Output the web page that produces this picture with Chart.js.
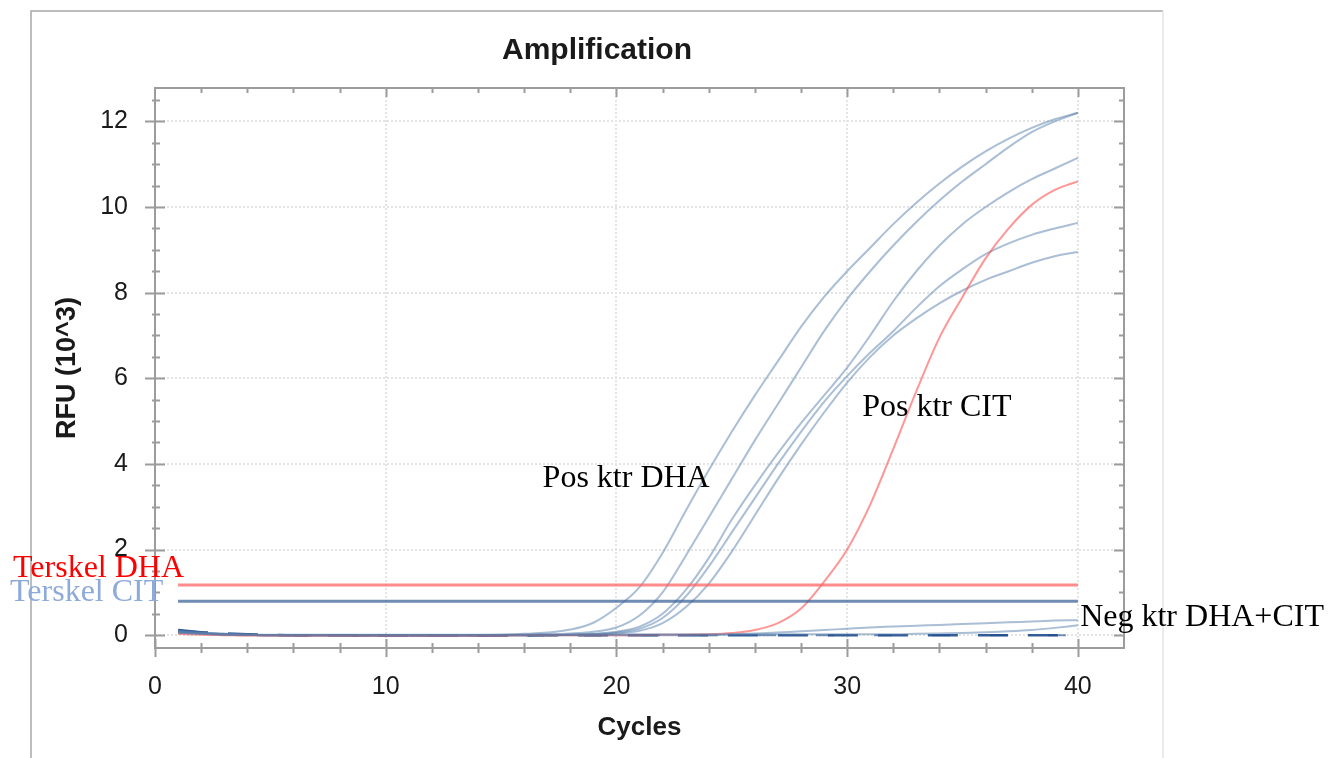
<!DOCTYPE html>
<html><head><meta charset="utf-8">
<script src="https://cdn.jsdelivr.net/npm/chart.js@4.4.1/dist/chart.umd.min.js"></script>
<style>html,body{margin:0;padding:0;background:#fff;overflow:hidden}</style>
</head><body>
<canvas id="c" width="1343" height="758"></canvas>
<script>
// ---- data (RFU x 10^3 per cycle) ----
const cycles = [1,2,3,4,5,6,7,8,9,10,11,12,13,14,15,16,17,18,19,20,21,22,23,24,25,26,27,28,29,30,31,32,33,34,35,36,37,38,39,40];
const posDHA1 = [0.09,0.05,0.03,0.01,0,0,-0.01,-0.01,-0.01,-0.01,-0.01,-0.01,-0.01,0,0.01,0.03,0.06,0.13,0.29,0.64,1.12,1.92,2.9,3.85,4.75,5.6,6.4,7.2,7.9,8.5,9.05,9.6,10.1,10.55,10.95,11.3,11.6,11.85,12.05,12.2];
const posDHA2 = [0.07,0.04,0.02,0.01,0,0,0,-0.01,-0.01,-0.01,-0.01,-0.01,-0.01,-0.01,0,0.01,0.02,0.04,0.08,0.18,0.46,1.0,1.85,2.75,3.65,4.55,5.4,6.25,7.1,7.85,8.5,9.1,9.65,10.15,10.6,11.0,11.4,11.75,12.0,12.2];
const posDHA3 = [0.08,0.05,0.02,0.01,0,0,0,0,-0.01,-0.01,-0.01,-0.01,-0.01,-0.01,0,0,0.01,0.01,0.03,0.08,0.2,0.5,1.05,1.8,2.7,3.5,4.25,4.95,5.6,6.25,7.0,7.8,8.5,9.1,9.6,10.0,10.35,10.65,10.9,11.15];
const posDHA4 = [0.1,0.06,0.03,0.01,0,0,0,0,-0.01,-0.01,-0.01,-0.01,-0.01,-0.01,0,0,0,0.01,0.02,0.06,0.15,0.4,0.9,1.6,2.4,3.2,4.0,4.75,5.45,6.05,6.6,7.1,7.65,8.15,8.55,8.9,9.15,9.35,9.5,9.63];
const posDHA5 = [0.09,0.05,0.02,0.01,0,0,0,0,-0.01,-0.01,-0.01,-0.01,-0.01,-0.01,0,0,0,0.01,0.02,0.04,0.1,0.28,0.65,1.2,1.95,2.8,3.65,4.45,5.2,5.9,6.5,7.0,7.4,7.75,8.05,8.3,8.5,8.7,8.85,8.95];
const posCIT = [0.03,0.01,0,-0.01,-0.01,-0.01,-0.01,-0.01,-0.01,-0.01,-0.01,-0.01,-0.01,-0.01,-0.01,0,0,0,0,0,0,0.01,0.01,0.02,0.05,0.12,0.28,0.62,1.25,2.0,3.05,4.35,5.7,6.95,7.9,8.8,9.5,10.05,10.4,10.6];
const negA = [0.06,0.03,0.01,0,0,0,0,0,0,0,0,0,0,0,0,0,0,0,0,0,0,0,0,0,0.02,0.04,0.06,0.09,0.12,0.15,0.18,0.2,0.22,0.24,0.26,0.28,0.3,0.32,0.34,0.35];
const negB = [0.05,0.03,0.01,0.01,0.01,0.01,0.01,0.01,0.01,0.01,0.01,0.01,0.01,0.01,0.01,0.01,0.01,0.01,0.01,0.02,0.02,0.02,0.02,0.02,0.02,0.02,0.02,0.02,0.02,0.02,0.02,0.02,0.03,0.04,0.05,0.07,0.09,0.12,0.17,0.23];
const negC = [0.12,0.07,0.04,0.02,0.01,0,0,0,-0.01,-0.01,-0.01,-0.01,-0.01,-0.01,-0.01,-0.01,0,0,0,0,0,0,0,0,0,0,0,0,0,0,0,0,0,0,0,0,0,0,0,0];
const negD = [0.1,0.06,0.03,0.01,0,-0.01,-0.01,-0.01,-0.01,-0.01,-0.01,-0.01,-0.01,-0.01,-0.01,-0.01,-0.01,-0.01,-0.01,-0.01,0,0,0,0,0,0,0,0,0,0,0,0,0,0,0,0,0,0,0,0];
const thresholdDHA = 1.17;
const thresholdCIT = 0.79;
const xTickValues = [0,10,20,30,40];
const yTickValues = [0,2,4,6,8,10,12];

const pts = arr => cycles.map((c, i) => ({x: c, y: arr[i]}));
const flat = v => cycles.map(c => ({x: c, y: v}));

const BLUE = 'rgba(85,125,172,0.5)';
const RED = 'rgba(255,80,80,0.6)';
function line(data, color, width, extra) {
  return Object.assign({data: data, borderColor: color, borderWidth: width, pointRadius: 0,
    fill: false, cubicInterpolationMode: 'monotone', tension: 0.4}, extra || {});
}

const datasets = [
  line(flat(thresholdDHA), 'rgba(255,95,95,0.72)', 3, {tension: 0}),
  line(flat(thresholdCIT), 'rgba(55,95,150,0.72)', 3, {tension: 0}),
  line(pts(negA), BLUE, 2),
  line(pts(negB), BLUE, 2),
  line(pts(posCIT), RED, 2),
  line(pts(posDHA1), BLUE, 2),
  line(pts(posDHA2), BLUE, 2),
  line(pts(posDHA3), BLUE, 2),
  line(pts(posDHA4), BLUE, 2),
  line(pts(posDHA5), BLUE, 2),
  line(pts(negC), 'rgba(30,75,140,0.9)', 2.5, {borderDash: [30, 20]}),
  line(pts(negD), 'rgba(30,75,140,0.6)', 2, {borderDash: [18, 40]})
];

const deco = {
  id: 'deco',
  beforeDraw(chart) {
    const ctx = chart.ctx;
    ctx.save();
    ctx.fillStyle = '#fff';
    ctx.fillRect(0, 0, chart.width, chart.height);
    ctx.lineWidth = 1.5;
    ctx.strokeStyle = '#a8a8a8';
    ctx.beginPath(); ctx.moveTo(31, 758); ctx.lineTo(31, 11); ctx.lineTo(1163, 11); ctx.stroke();
    ctx.strokeStyle = '#e4e4e4';
    ctx.beginPath(); ctx.moveTo(1163, 11); ctx.lineTo(1163, 758); ctx.stroke();
    ctx.restore();
  },
  afterDraw(chart) {
    const {ctx, chartArea: a, scales: {x, y}} = chart;
    ctx.save();
    ctx.strokeStyle = '#9c9c9c';
    ctx.lineWidth = 2;
    ctx.strokeRect(a.left, a.top, a.right - a.left, a.bottom - a.top);
    // x ticks (every 2 cycles)
    for (let v = 2; v < 42; v += 2) {
      const px = Math.round(x.getPixelForValue(v)) + 0.5;
      const major = v % 10 === 0;
      const L = major ? 9 : 5;
      ctx.beginPath();
      ctx.moveTo(px, a.bottom + (major ? 9 : 5)); ctx.lineTo(px, a.bottom - L);
      ctx.moveTo(px, a.top); ctx.lineTo(px, a.top + L);
      ctx.stroke();
    }
    // y ticks (every 0.5)
    for (let v = 0.5; v <= 12.5; v += 0.5) {
      const py = Math.round(y.getPixelForValue(v)) + 0.5;
      const major = Math.abs(v % 2) < 1e-9;
      const L = major ? 10 : 5;
      ctx.beginPath();
      ctx.moveTo(a.left - (major ? 10 : 3), py); ctx.lineTo(a.left + L, py);
      ctx.moveTo(a.right - L, py); ctx.lineTo(a.right, py);
      ctx.stroke();
    }
    {
      const py = Math.round(y.getPixelForValue(0)) + 0.5;
      ctx.beginPath(); ctx.moveTo(a.left - 10, py); ctx.lineTo(a.left + 10, py);
      ctx.moveTo(a.right - 10, py); ctx.lineTo(a.right, py); ctx.stroke();
      const px = Math.round(x.getPixelForValue(0)) + 0.5;
      ctx.beginPath(); ctx.moveTo(px, a.bottom + 9); ctx.lineTo(px, a.bottom - 9); ctx.stroke();
    }
    // titles
    ctx.fillStyle = '#1a1a1a';
    ctx.textAlign = 'center';
    ctx.textBaseline = 'alphabetic';
    ctx.font = 'bold 30px "Liberation Sans", Arial, sans-serif';
    ctx.fillText('Amplification', 597, 59);
    ctx.font = 'bold 26px "Liberation Sans", Arial, sans-serif';
    ctx.fillText('Cycles', (a.left + a.right) / 2, 735);
    ctx.save();
    ctx.translate(75, (a.top + a.bottom) / 2);
    ctx.rotate(-Math.PI / 2);
    ctx.font = 'bold 27px "Liberation Sans", Arial, sans-serif';
    ctx.fillText('RFU (10^3)', 0, 0);
    ctx.restore();
    // annotations
    ctx.textAlign = 'left';
    ctx.font = '32px "Liberation Serif", "Times New Roman", serif';
    ctx.fillStyle = '#ff0000';
    ctx.fillText('Terskel DHA', 13, 577);
    ctx.fillStyle = '#8eaadb';
    ctx.fillText('Terskel CIT', 10, 601);
    ctx.fillStyle = '#000';
    ctx.fillText('Pos ktr DHA', x.getPixelForValue(16.8), y.getPixelForValue(3.47));
    ctx.fillText('Pos ktr CIT', x.getPixelForValue(30.65), y.getPixelForValue(5.13));
    ctx.fillText('Neg ktr DHA+CIT', x.getPixelForValue(40.1), y.getPixelForValue(0.22));
    ctx.restore();
  }
};

const tickFont = {family: '"Liberation Sans", Arial, sans-serif', size: 25};
new Chart(document.getElementById('c'), {
  type: 'line',
  data: {datasets: datasets},
  options: {
    responsive: false,
    animation: false,
    devicePixelRatio: 1,
    events: [],
    layout: {padding: {top: 88, right: 219, left: 0, bottom: 0}},
    plugins: {legend: {display: false}, title: {display: false}, tooltip: {enabled: false}},
    scales: {
      x: {
        type: 'linear', min: 0, max: 42,
        afterFit: s => { s.height = 110; },
        afterBuildTicks: s => { s.ticks = xTickValues.map(v => ({value: v})); },
        ticks: {font: tickFont, color: '#1a1a1a', padding: 24, maxRotation: 0, autoSkip: false},
        grid: {drawTicks: false, color: '#e4e4e4', lineWidth: 2},
        border: {display: false, dash: [2, 2]}
      },
      y: {
        type: 'linear', min: -0.3, max: 12.78,
        afterFit: s => { s.width = 155; },
        afterBuildTicks: s => { s.ticks = yTickValues.map(v => ({value: v})); },
        ticks: {font: tickFont, color: '#1a1a1a', padding: 27, autoSkip: false},
        grid: {drawTicks: false, color: '#e4e4e4', lineWidth: 2},
        border: {display: false, dash: [2, 2]}
      }
    }
  },
  plugins: [deco]
});
</script>
</body></html>
